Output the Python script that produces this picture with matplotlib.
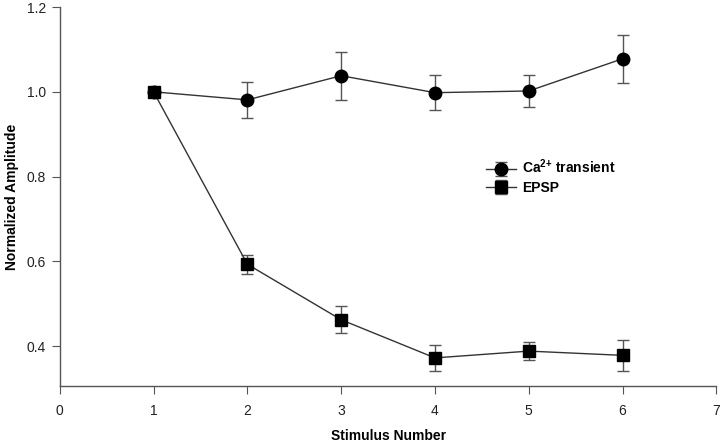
import matplotlib.pyplot as plt

plt.rcParams['font.family'] = ['Liberation Sans', 'DejaVu Sans']
plt.rcParams['mathtext.fontset'] = 'custom'
plt.rcParams['mathtext.rm'] = 'Liberation Sans'
plt.rcParams['mathtext.bf'] = 'Liberation Sans:bold'

stimulus = [1, 2, 3, 4, 5, 6]

ca_mean = [1.000, 0.981, 1.038, 0.998, 1.002, 1.078]
ca_err = [0.0, 0.043, 0.057, 0.042, 0.038, 0.056]

epsp_mean = [1.000, 0.593, 0.462, 0.372, 0.388, 0.378]
epsp_err = [0.0, 0.022, 0.032, 0.030, 0.021, 0.037]

x_ticks = [0, 1, 2, 3, 4, 5, 6, 7]
y_ticks = [0.4, 0.6, 0.8, 1.0, 1.2]

fig = plt.figure(figsize=(7.2, 4.43), dpi=100)
ax = fig.add_axes([0.083, 0.129, 0.912, 0.855])

ax.errorbar(stimulus, ca_mean, yerr=ca_err, color="#333333", lw=1.0,
            marker="o", ms=9, mfc="black", mec="black",
            ecolor="#555555", elinewidth=1.0, capsize=4, capthick=1.0,
            label=r"Ca$^{\mathbf{2{+}}}$ transient")
ax.errorbar(stimulus, epsp_mean, yerr=epsp_err, color="#333333", lw=1.0,
            marker="s", ms=8, mfc="black", mec="black",
            ecolor="#555555", elinewidth=1.0, capsize=4, capthick=1.0,
            label="EPSP")

ax.set_xlim(0, 7)
ax.set_ylim(0.306, 1.2)
ax.set_xticks(x_ticks)
ax.set_yticks(y_ticks)
ax.set_yticklabels([f"{v:.1f}" for v in y_ticks])

for side in ["top", "right"]:
    ax.spines[side].set_visible(False)
for side in ["left", "bottom"]:
    ax.spines[side].set_color("#555555")
    ax.spines[side].set_linewidth(1.0)

ax.tick_params(direction="out", length=6, width=0.8, color="#555555",
               labelsize=10, labelcolor="#222222")
ax.tick_params(axis="x", pad=7)
ax.tick_params(axis="y", pad=4)

ax.set_xlabel("Stimulus Number", fontsize=10, fontweight="bold")
ax.set_ylabel("Normalized Amplitude", fontsize=10, fontweight="bold")
ax.xaxis.set_label_coords(0.5, -0.113)
ax.yaxis.set_label_coords(-0.062, 0.5)

leg = ax.legend(loc="upper left", bbox_to_anchor=(0.63, 0.635), frameon=False,
                prop={"weight": "bold", "size": 10}, handlelength=2.2,
                handletextpad=0.4, labelspacing=0.3)

fig.savefig("out.png", dpi=100)
